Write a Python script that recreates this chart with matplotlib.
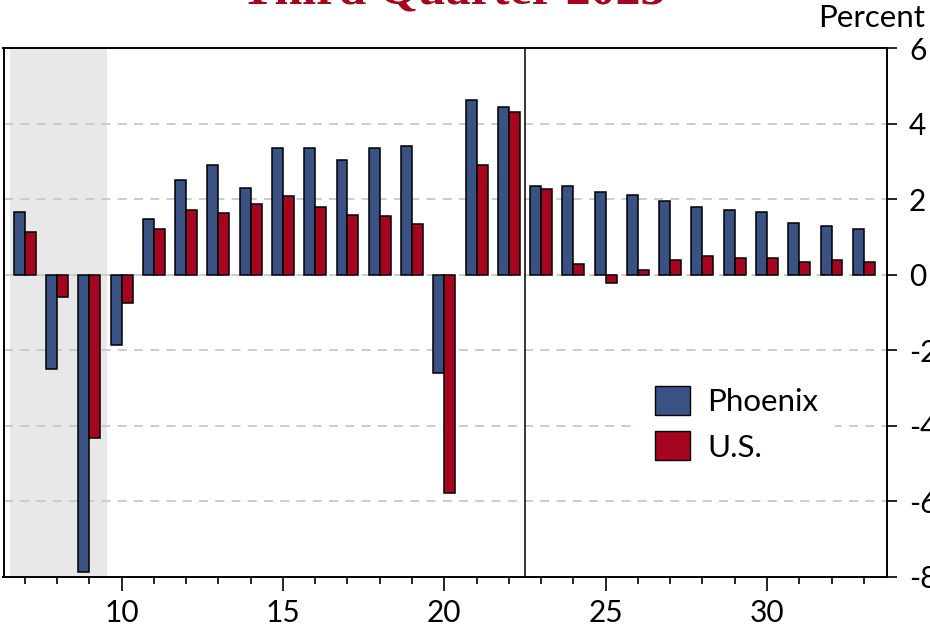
import matplotlib
matplotlib.use("Agg")
import matplotlib.pyplot as plt
import numpy as np
from matplotlib.ticker import MultipleLocator, FixedLocator
from matplotlib.patches import Patch

plt.rcParams['font.family'] = ['Lato', 'DejaVu Sans']

years = list(range(7, 34))
phoenix = [1.66, -2.49, -7.87, -1.87, 1.47, 2.51, 2.91, 2.30, 3.37, 3.37, 3.04, 3.37, 3.40,
           -2.61, 4.62, 4.45, 2.34, 2.34, 2.20, 2.12, 1.95, 1.79, 1.71, 1.66, 1.38, 1.29, 1.21]
us = [1.12, -0.58, -4.34, -0.75, 1.22, 1.72, 1.64, 1.88, 2.09, 1.80, 1.59, 1.55, 1.34,
      -5.79, 2.91, 4.32, 2.28, 0.28, -0.21, 0.12, 0.38, 0.49, 0.45, 0.45, 0.34, 0.38, 0.34]
xtick_labels = ['10', '15', '20', '25', '30']
ytick_labels = ['-8', '-6', '-4', '-2', '0', '2', '4', '6']
series_names = ['Phoenix', 'U.S.']
title = 'Third Quarter 2023'
unit_label = 'Percent'
recession = (6.55, 9.55)
forecast_line = 22.5

blue = '#3A5283'
red = '#A6051F'

W, H = 930, 632
fig = plt.figure(figsize=(W / 100, H / 100), dpi=100)
ax_l, ax_r, ax_t, ax_b = 3.5, 886.7, 48.3, 576.5
ax = fig.add_axes([ax_l / W, (H - ax_b) / H, (ax_r - ax_l) / W, (ax_b - ax_t) / H])

ax.set_xlim(6.34, 33.71)
ax.set_ylim(-8, 6)

ax.axvspan(recession[0], recession[1], color='#E8E8E8', zorder=0, lw=0)

for yv in [-6, -4, -2, 0, 2, 4]:
    ax.axhline(yv, color='#C8C8C8', lw=1.3, ls=(0, (5, 4)), zorder=1)

x = np.array(years, dtype=float)
bw = 0.34
ax.bar(x - bw / 2, phoenix, width=bw, color=blue, edgecolor='black', linewidth=1.1, zorder=3)
ax.bar(x + bw / 2, us, width=bw, color=red, edgecolor='black', linewidth=1.1, zorder=3)

ax.axvline(forecast_line, color='black', lw=1.1, zorder=4)

for s in ax.spines.values():
    s.set_linewidth(1.4)
    s.set_color('black')

# x axis
ax.xaxis.set_major_locator(FixedLocator([int(v) for v in xtick_labels]))
ax.set_xticklabels(xtick_labels)
ax.xaxis.set_minor_locator(MultipleLocator(1))
ax.tick_params(axis='x', which='major', direction='out', length=10, width=1.2, labelsize=21.5, pad=6)
ax.tick_params(axis='x', which='minor', direction='out', length=5, width=1.2)

# y axis on right
ax.yaxis.tick_right()
ax.set_yticks([int(v) for v in ytick_labels])
ax.set_yticklabels(ytick_labels)
ax.tick_params(axis='y', which='major', direction='out', length=7, width=1.2, labelsize=21.5, pad=9,
               left=False, right=True)

handles = [Patch(facecolor=blue, edgecolor='black', linewidth=1.0),
           Patch(facecolor=red, edgecolor='black', linewidth=1.0)]
leg = ax.legend(handles, series_names, loc='upper left', bbox_to_anchor=(0.718, 0.394),
                borderaxespad=0, frameon=True, fancybox=False, fontsize=22.5,
                handlelength=1.12, handleheight=1.05, handletextpad=0.55, labelspacing=0.5,
                borderpad=0.55)
leg.get_frame().set_facecolor('white')
leg.get_frame().set_edgecolor('none')
leg.get_frame().set_alpha(1)
leg.set_zorder(5)

fig.text(453 / W, 1 - 3.5 / H, title, ha='center', va='baseline', fontsize=36,
         fontweight='bold', color='#A6051F', family=['Liberation Serif', 'DejaVu Serif'])
fig.text(925 / W, 1 - 27 / H, unit_label, ha='right', va='baseline', fontsize=22.5)

fig.savefig('out.png', dpi=100)
